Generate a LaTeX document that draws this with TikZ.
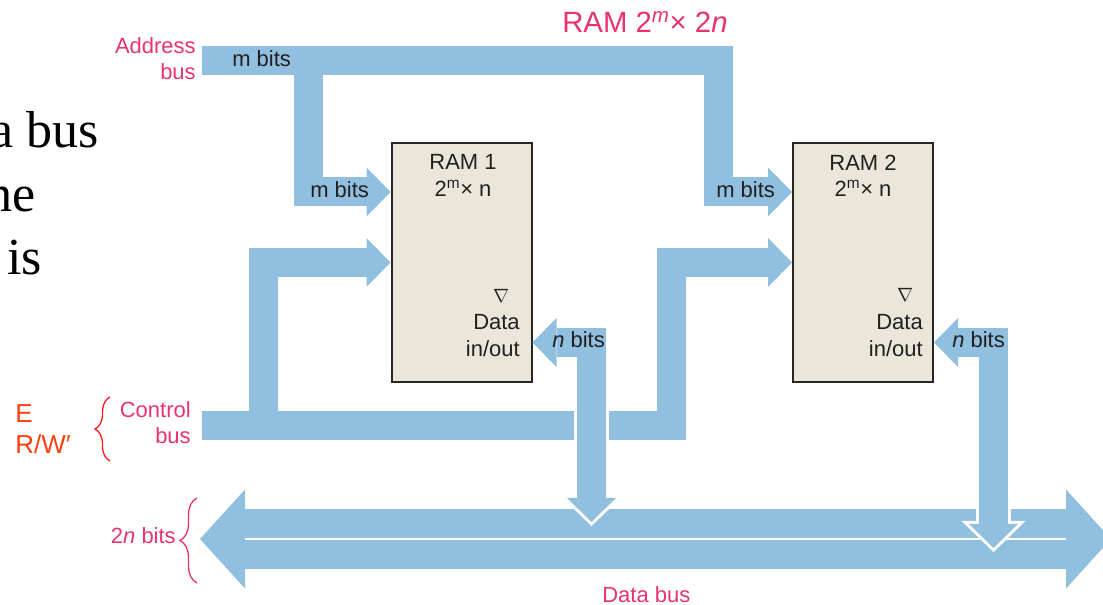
\documentclass[tikz,border=0pt]{standalone}
\usepackage{fontspec}
\setmainfont{Liberation Sans}
\newfontfamily\slideserif{Liberation Serif}
\usetikzlibrary{arrows.meta,decorations.pathreplacing}

\definecolor{busblue}{RGB}{144,191,223}
\definecolor{boxfill}{RGB}{234,231,218}
\definecolor{boxline}{RGB}{40,38,36}
\definecolor{txtdark}{RGB}{35,31,32}
\definecolor{tagpink}{RGB}{232,51,110}
\definecolor{sigred}{RGB}{255,64,16}
\definecolor{bracered}{RGB}{255,30,30}

\tikzset{
  bushead/.tip={Triangle[width=36.75pt, length=18pt, line width=0pt]},
  bushalo/.tip={Triangle[width=48pt, length=23.25pt, line width=0pt]},
  dbhead/.tip={Triangle[width=74.25pt, length=33.75pt, line width=0pt]},
}

\begin{document}
\begin{tikzpicture}[x=0.75pt, y=-0.75pt,
    bus/.style={draw=busblue, line width=21.75pt, line join=miter, line cap=butt},
    halo/.style={draw=white, line width=26.25pt, line join=miter, line cap=butt},
    ram/.style={draw=boxline, line width=1.5pt, fill=boxfill,
                minimum width=105pt, minimum height=179.25pt, inner sep=0pt},
    lbl/.style={font=\fontsize{16.5}{20}\selectfont, text=txtdark, inner sep=0pt},
    tag/.style={font=\fontsize{16.5}{19.5}\selectfont, text=tagpink, inner sep=0pt},
    title/.style={font=\fontsize{22}{26}\selectfont, text=tagpink, inner sep=0pt},
    sig/.style={font=\fontsize{19.5}{23.25}\selectfont, text=sigred, inner sep=0pt},
    slide/.style={font=\slideserif\fontsize{39}{47}\selectfont, inner sep=0pt},
    oe/.style={font=\fontsize{15}{18}\selectfont, text=txtdark, inner sep=0pt},
    brace/.style={decorate, decoration={brace, amplitude=#1}, line width=1pt}
]
\useasboundingbox (0,0) rectangle (1103,605);
\clip (0,0) rectangle (1103,605);

% slide text running in from the left
\node[slide, anchor=base west] (slideA) at (-10,148) {a bus};
\node[slide, anchor=base west] (slideB) at (-14,212) {he};
\node[slide, anchor=base west] (slideC) at (7,275) {is};

% data bus (two halves of n bits)
\coordinate (dbL) at (200,539);
\coordinate (dbR) at (1111,539);
\draw[bus, line width=44.25pt, dbhead-dbhead] (dbL) -- (dbR);
\draw[white, line width=1.5pt, shorten <=33.75pt, shorten >=33.75pt] (dbL) -- (dbR);

% the two chips
\node[ram] (ram1) at (461.5,262.5) {};
\node[ram] (ram2) at (863,262.5) {};

% rows and bends
\coordinate (aRow) at (0,192);
\coordinate (cRow) at (0,262.5);
\coordinate (dRow) at (0,342.5);
\coordinate (addrIn)  at (202,61);
\coordinate (addrTap) at (308.5,61);
\coordinate (addrEnd) at (718,61);
\coordinate (ctrlIn)  at (202,426);
\coordinate (ctrlTap) at (263.5,426);
\coordinate (ctrlEnd) at (671.5,426);
\coordinate (io1)    at (591.5,342.5);
\coordinate (io1Bus) at (591.5,522);
\coordinate (io2)    at (993.5,342.5);
\coordinate (io2Bus) at (993.5,548);

% address bus
\draw[bus, -bushead] (addrIn) -- (addrEnd) -- (addrEnd |- aRow) -- (ram2.west |- aRow);
\draw[bus, -bushead] (addrTap) -- (addrTap |- aRow) -- (ram1.west |- aRow);

% control bus
\draw[bus, -bushead] (ctrlIn) -- (ctrlEnd) -- (ctrlEnd |- cRow) -- (ram2.west |- cRow);
\draw[bus, -bushead] (ctrlTap) -- (ctrlTap |- cRow) -- (ram1.west |- cRow);

% data in/out
\draw[halo, bushalo-bushalo, shorten >=-3pt] (ram1.east |- dRow) -- (io1) -- (io1Bus);
\draw[bus, bushead-bushead] (ram1.east |- dRow) -- (io1) -- (io1Bus);
\draw[halo, bushalo-bushalo, shorten >=-3pt] (ram2.east |- dRow) -- (io2) -- (io2Bus);
\draw[bus, bushead-bushead] (ram2.east |- dRow) -- (io2) -- (io2Bus);

% chip texts
\node[lbl, anchor=north, align=center] (ram1Name) at (463,154.5) {RAM 1\\2\textsuperscript{m}× n};
\node[lbl, anchor=north, align=center] (ram2Name) at (863,154.5) {RAM 2\\2\textsuperscript{m}× n};
\node[oe] (ram1Oe) at (501,296) {$\nabla$};
\node[oe] (ram2Oe) at (905,295) {$\nabla$};
\node[lbl, anchor=north east, align=right] (ram1Io) at (520,314.3) {Data\\in/out};
\node[lbl, anchor=north east, align=right] (ram2Io) at (923,314.3) {Data\\in/out};

% bus widths
\node[lbl, anchor=base west] (addrBits) at (232,67) {m bits};
\node[lbl, anchor=base west] (bitsA1) at (310,198) {m bits};
\node[lbl, anchor=base west] (bitsA2) at (716,198) {m bits};
\node[lbl, anchor=base west] (bitsD1) at (552,348) {\textit{n} bits};
\node[lbl, anchor=base west] (bitsD2) at (952,348) {\textit{n} bits};

% bus names
\node[title, anchor=base west] (ramTitle) at (562,33) {RAM 2\textsuperscript{\textit{m}}× 2\textit{n}};
\node[tag, anchor=north east, align=right] (addrLbl) at (196,37.3) {Address\\bus};
\node[tag, anchor=north east, align=right] (ctrlLbl) at (191,400.8) {Control\\bus};
\node[sig, anchor=north west, align=left] (ctrlSig) at (15,404.4) {E\\R/W′};
\node[tag, anchor=base east] (dbWidth) at (176,544) {2\textit{n} bits};
\node[tag, anchor=base west] (dbLbl) at (602,602) {Data bus};

% braces
\draw[brace=11.25pt, draw=bracered] (110,461) -- (110,397);
\draw[brace=12.75pt, draw=tagpink] (197,583) -- (197,498);

\end{tikzpicture}
\end{document}
